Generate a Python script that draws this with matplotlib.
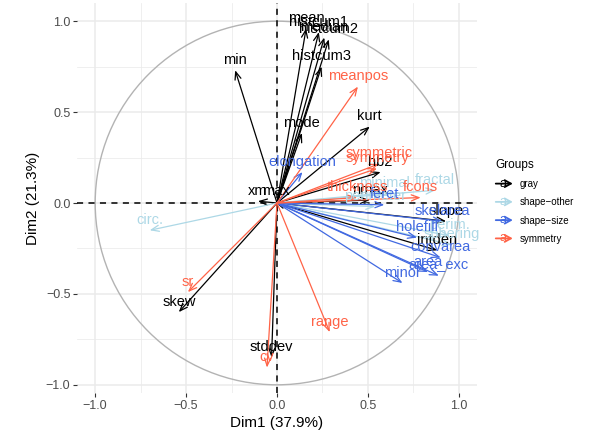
import matplotlib
matplotlib.use("Agg")
import matplotlib.pyplot as plt
import numpy as np
from matplotlib.patches import Circle, FancyArrowPatch
from matplotlib.lines import Line2D
from matplotlib.text import Text
from matplotlib.legend_handler import HandlerBase

plt.rcParams['font.family'] = ['Liberation Sans', 'DejaVu Sans']

# ---- data (variable coordinates on Dim1 / Dim2) ----
gray_names = ["mean", "histcum1", "median", "histcum2", "histcum3", "min", "mode",
              "kurt", "skew", "stddev", "xm", "max", "hb2", "nmax", "slope", "intden"]
gray_x = [0.16, 0.23, 0.26, 0.285, 0.245, -0.23, 0.137, 0.51, -0.54, -0.03, -0.105,
          -0.005, 0.57, 0.51, 0.93, 0.88]
gray_y = [0.96, 0.94, 0.91, 0.90, 0.75, 0.73, 0.385, 0.42, -0.60, -0.85, 0.01,
          0.01, 0.17, 0.016, -0.10, -0.26]

other_names = ["circ.", "fractal", "minimal", "perimeter", "perim.", "sphering"]
other_x = [-0.70, 0.87, 0.59, 0.54, 0.95, 0.96]
other_y = [-0.15, 0.07, 0.055, -0.02, -0.18, -0.23]

size_names = ["elongation", "feret", "skelarea", "holefill", "convarea", "area",
              "area_exc", "minor"]
size_x = [0.14, 0.59, 0.91, 0.77, 0.90, 0.83, 0.89, 0.69]
size_y = [0.17, -0.01, -0.10, -0.19, -0.30, -0.38, -0.40, -0.44]

sym_names = ["meanpos", "symmetric", "symmetry", "thickness", "fcons", "sr", "cv", "range"]
sym_x = [0.445, 0.56, 0.55, 0.44, 0.79, -0.49, -0.055, 0.29]
sym_y = [0.64, 0.215, 0.19, 0.03, 0.03, -0.49, -0.905, -0.71]

group_labels = ["gray", "shape\u2212other", "shape\u2212size", "symmetry"]
group_colors = ["#000000", "#ADD8E6", "#4169E1", "#FF6347"]

groups = [
    (gray_names, gray_x, gray_y),
    (other_names, other_x, other_y),
    (size_names, size_x, size_y),
    (sym_names, sym_x, sym_y),
]

W, H = 603, 447
fig = plt.figure(figsize=(W / 100, H / 100), dpi=100)
ax = fig.add_axes([77 / W, 1 - 393 / H, 400 / W, 390 / H])
ax.set_xlim(-1.1, 1.1)
ax.set_ylim(-1.045, 1.1)

# grid
for v in [-1, -0.5, 0, 0.5, 1]:
    ax.axvline(v, color="#EBEBEB", lw=1.1, zorder=0)
    ax.axhline(v, color="#EBEBEB", lw=1.1, zorder=0)
for v in [-0.75, -0.25, 0.25, 0.75]:
    ax.axvline(v, color="#EBEBEB", lw=0.55, zorder=0)
    ax.axhline(v, color="#EBEBEB", lw=0.55, zorder=0)

ax.add_patch(Circle((0, 0), 1, fill=False, color="#B3B3B3", lw=1.0, zorder=1))
ax.axhline(0, color="black", lw=1.1, ls=(0, (4, 3.5)), zorder=2)
ax.axvline(0, color="black", lw=1.1, ls=(0, (4, 3.5)), zorder=2)

for (names, xs, ys), col in zip(groups, group_colors):
    for x, y in zip(xs, ys):
        ax.annotate("", xy=(x, y), xytext=(0, 0),
                    arrowprops=dict(arrowstyle="->,head_length=0.55,head_width=0.22",
                                    color=col, lw=0.9, shrinkA=0, shrinkB=0,
                                    mutation_scale=10), zorder=3)
for (names, xs, ys), col in zip(groups, group_colors):
    for n, x, y in zip(names, xs, ys):
        ax.annotate(n, xy=(x, y), xytext=(0, 7.5), textcoords="offset points",
                    ha="center", va="center", fontsize=10.5, color=col, zorder=4)

for s in ax.spines.values():
    s.set_visible(False)
ticks = [-1.0, -0.5, 0.0, 0.5, 1.0]
ax.set_xticks(ticks)
ax.set_yticks(ticks)
ax.set_xticklabels(["\u22121.0", "\u22120.5", "0.0", "0.5", "1.0"])
ax.set_yticklabels(["\u22121.0", "\u22120.5", "0.0", "0.5", "1.0"])
ax.tick_params(axis="both", length=2.75, width=0.8, color="#333333",
               labelcolor="#4D4D4D", labelsize=9, pad=2)
ax.set_xlabel("Dim1 (37.9%)", fontsize=11, labelpad=3)
ax.set_ylabel("Dim2 (21.3%)", fontsize=11, labelpad=4)


class ArrowTextHandler(HandlerBase):
    def create_artists(self, legend, orig_handle, xdescent, ydescent, width, height,
                       fontsize, trans):
        col = orig_handle.get_color()
        yc = height / 2 - ydescent
        arr = FancyArrowPatch((-xdescent, yc), (-xdescent + width, yc),
                              arrowstyle="->,head_length=0.45,head_width=0.25",
                              color=col, lw=1.3, mutation_scale=10,
                              shrinkA=0, shrinkB=0, transform=trans)
        t = Text(-xdescent + width * 0.42, yc, "a", color=col, ha="center", va="center",
                 fontsize=9, transform=trans)
        return [arr, t]


handles = [Line2D([], [], color=c) for c in group_colors]
leg = fig.legend(handles, group_labels, loc="upper left",
                 bbox_to_anchor=(487 / W, 1 - 150 / H), frameon=False,
                 title="Groups", title_fontsize=8.5, fontsize=7,
                 handler_map={Line2D: ArrowTextHandler()}, handlelength=1.75,
                 handletextpad=0.7, labelspacing=0.85, alignment="left")

fig.savefig("out.png", dpi=100)
